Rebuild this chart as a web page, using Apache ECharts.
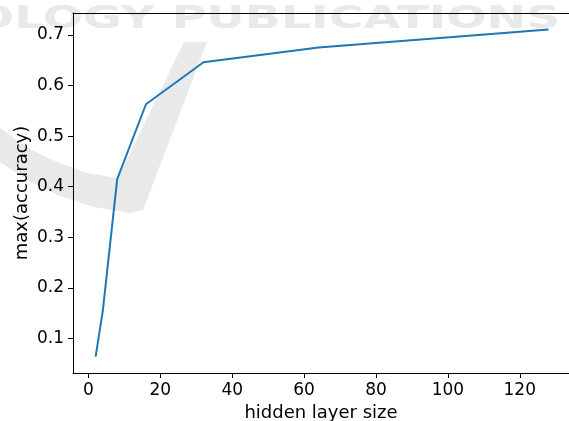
<!DOCTYPE html>
<html lang="en">

<head>
    <meta charset="UTF-8">
    <title>max accuracy vs hidden layer size</title>
    <script type="text/javascript" src="https://cdn.jsdelivr.net/npm/echarts@6/dist/echarts.min.js"></script>
    <style>
        html, body { margin: 0; padding: 0; background: #fff; }
    </style>
</head>

<body>
    <div id="main" style="width:569px;height:421px;"></div>
</body>
<script type="text/javascript">

    // data
    var hiddenSizes = [2, 4, 8, 16, 32, 64, 128];
    var maxAccuracy = [0.064, 0.155, 0.415, 0.563, 0.646, 0.675, 0.711];
    var xTicks = [0, 20, 40, 60, 80, 100, 120];
    var yTicks = [0.1, 0.2, 0.3, 0.4, 0.5, 0.6, 0.7];

    var points = [];
    for (var i = 0; i < hiddenSizes.length; i++) {
        points.push([hiddenSizes[i], maxAccuracy[i]]);
    }

    var font = 'DejaVu Sans';
    var xMin = -4.3, xMax = 133.7;   // right spine is cut off by the crop
    var myChart = echarts.init(document.getElementById('main'));

    myChart.setOption({
        animation: false,
        backgroundColor: '#fff',
        grid: {
            left: 73,
            top: 13,
            right: 0,
            bottom: 48,
            containLabel: false,
            outerBoundsMode: 'none'
        },
        // publisher watermark behind the plot
        graphic: [
            {
                type: 'text',
                z: -10,
                x: -26,
                y: 4,
                scaleX: 1.48,
                style: {
                    text: 'OLOGY PUBLICATIONS',
                    fill: '#e9e9e9',
                    font: 'bold 32px "DejaVu Sans"'
                }
            },
            {
                type: 'polygon',
                z: -10,
                shape: {
                    points: [[0, 128], [28, 148], [57, 162], [87, 173], [118, 178], [184, 42], [207, 42],
                        [143, 210], [130, 213], [94, 207], [60, 196], [29, 181], [0, 162]]
                },
                style: { fill: '#e9e9e9' }
            }
        ],
        xAxis: [{
            type: 'value',
            min: xMin,
            max: xMax,
            name: 'hidden layer size',
            nameLocation: 'middle',
            nameGap: 31,
            nameMoveOverlap: false,
            nameTextStyle: { color: '#000', fontFamily: font, fontSize: 18 },
            splitLine: { show: false },
            axisLine: { show: true, onZero: false, lineStyle: { color: '#000', width: 1 } },
            axisTick: {
                show: true,
                length: 5,
                customValues: xTicks,
                lineStyle: { color: '#000', width: 1 }
            },
            axisLabel: {
                color: '#000',
                fontFamily: font,
                fontSize: 17,
                margin: 9,
                customValues: xTicks
            }
        }, {
            // top spine
            type: 'value',
            position: 'top',
            min: xMin,
            max: xMax,
            splitLine: { show: false },
            axisLine: { show: true, onZero: false, lineStyle: { color: '#000', width: 1 } },
            axisTick: { show: false },
            axisLabel: { show: false }
        }],
        yAxis: {
            type: 'value',
            min: 0.0316,
            max: 0.7434,
            name: 'max(accuracy)',
            nameLocation: 'middle',
            nameGap: 42,
            nameMoveOverlap: false,
            nameTextStyle: { color: '#000', fontFamily: font, fontSize: 18 },
            splitLine: { show: false },
            axisLine: { show: true, onZero: false, lineStyle: { color: '#000', width: 1 } },
            axisTick: {
                show: true,
                length: 5,
                customValues: yTicks,
                lineStyle: { color: '#000', width: 1 }
            },
            axisLabel: {
                color: '#000',
                fontFamily: font,
                fontSize: 17,
                margin: 9,
                customValues: yTicks,
                formatter: function (v) { return v.toFixed(1); }
            }
        },
        series: [{
            name: 'max(accuracy)',
            type: 'line',
            xAxisIndex: 0,
            data: points,
            showSymbol: false,
            lineStyle: { color: '#1f77b4', width: 2 },
            z: 5
        }]
    });
</script>

</html>
